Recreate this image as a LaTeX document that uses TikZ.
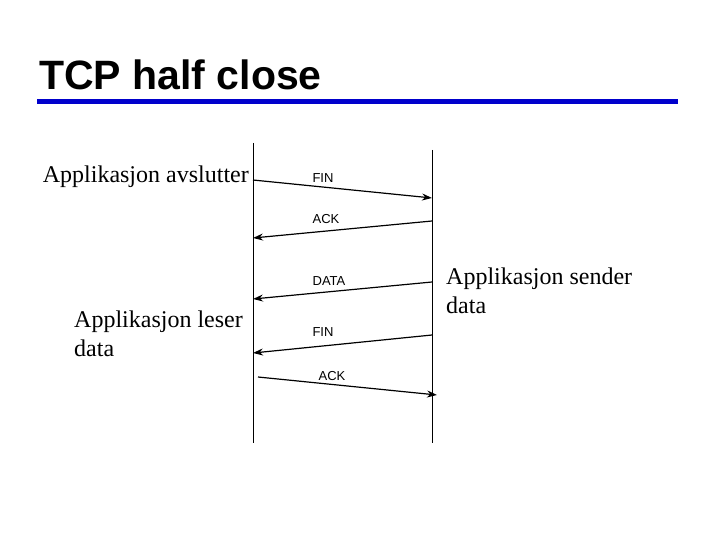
\documentclass[tikz,border=0pt]{standalone}
\usepackage{fontspec}
\setmainfont{Liberation Serif}
\setsansfont{Liberation Sans}
\usetikzlibrary{arrows.meta}
\definecolor{titleblue}{RGB}{0,0,204}
\begin{document}
\begin{tikzpicture}[x=1pt,y=-1pt,
  lifeline/.style={line width=0.9pt},
  msg/.style={line width=1.2pt,-{Stealth[length=10pt,width=7pt]}},
  msglabel/.style={font=\sffamily\fontsize{13}{15}\selectfont,inner sep=0pt},
  appl/.style={font=\fontsize{24}{29}\selectfont,inner sep=0pt,align=left},
]
\useasboundingbox (0,0) rectangle (720,540);
\node[anchor=base west,font=\sffamily\bfseries\fontsize{41}{44}\selectfont,inner sep=0pt] (title) at (39,90) {TCP half close};
\draw[titleblue,line width=5pt] (37,101.5) -- (678,101.5);
% lifelines
\coordinate (lt) at (253,143); \coordinate (lb) at (253,443);
\coordinate (rt) at (432,150); \coordinate (rb) at (432,443);
\draw[lifeline] (lt) -- (lb);
\draw[lifeline] (rt) -- (rb);
% message endpoints
\coordinate (a1) at (253,180); \coordinate (b1) at (432,198);
\coordinate (a2) at (432,221); \coordinate (b2) at (253,238);
\coordinate (a3) at (432,282); \coordinate (b3) at (253,299);
\coordinate (a4) at (432,335); \coordinate (b4) at (253,353);
\coordinate (a5) at (258,377); \coordinate (b5) at (437,395);
\draw[msg] (a1) -- (b1);
\draw[msg] (a2) -- (b2);
\draw[msg] (a3) -- (b3);
\draw[msg] (a4) -- (b4);
\draw[msg] (a5) -- (b5);
\node[msglabel] (l1) at (323,178) {FIN};
\node[msglabel] (l2) at (326,219) {ACK};
\node[msglabel] (l3) at (329,281) {DATA};
\node[msglabel] (l4) at (323,332) {FIN};
\node[msglabel] (l5) at (332,376) {ACK};
% application texts
\node[appl,anchor=east] (t1) at (249,177) {Applikasjon avslutter};
\node[appl,anchor=west] (t2) at (74,334) {Applikasjon leser\\data};
\node[appl,anchor=west] (t3) at (446,291) {Applikasjon sender\\data};
\end{tikzpicture}
\end{document}
